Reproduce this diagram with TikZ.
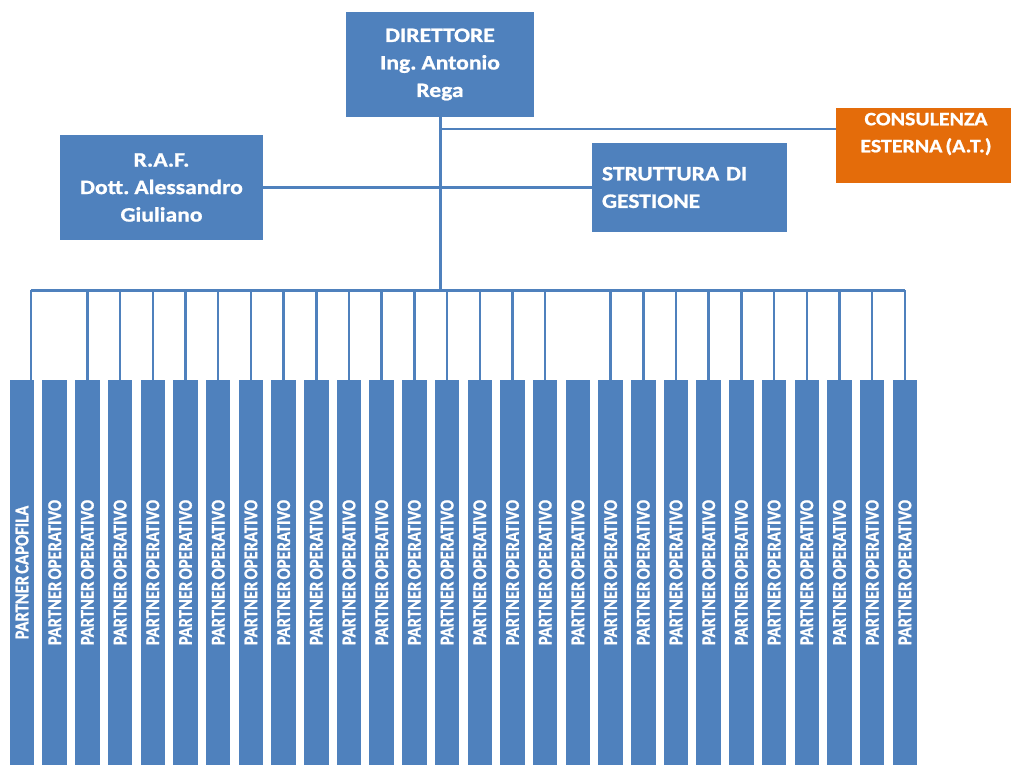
\documentclass[tikz,border=0pt]{standalone}
\usepackage{fontspec}
\setmainfont{Carlito}
\newfontfamily\boxfont{Carlito}[FakeStretch=1.15, WordSpace=0.6,
  BoldFeatures={FakeBold=1}]
\newfontfamily\colfont{Carlito}[FakeStretch=0.85, WordSpace=0.6,
  BoldFeatures={FakeBold=1}]
\usepackage{xcolor}
\usetikzlibrary{calc}
\definecolor{orgblue}{RGB}{79,129,189}
\definecolor{orgorange}{RGB}{228,108,10}

\begin{document}
\begin{tikzpicture}[
    x=1pt, y=-1pt,
    unit/.style={fill=orgblue, text=white, inner sep=0pt, align=center,
      font=\boxfont\bfseries\fontsize{20.5}{27.5}\selectfont},
    partner/.style={fill=orgblue, text=white, inner sep=0pt,
      minimum width=24.5pt, minimum height=385pt,
      font=\colfont\bfseries\fontsize{19.5}{20}\selectfont},
    wire/.style={draw=orgblue, line width=3pt},
    drop/.style={draw=orgblue, line width=2.5pt}
  ]
  \useasboundingbox (0,0) rectangle (1011,765);

  \node[unit, minimum width=188pt, minimum height=105pt] (dir) at (440,64.5)
    {DIRETTORE\\Ing. Antonio\\Rega};
  \node[unit, minimum width=203pt, minimum height=105pt] (raf) at (161.5,187.5)
    {R.A.F.\\Dott. Alessandro\\Giuliano};
  \node[unit, align=left, text width=175pt, minimum width=195pt,
    minimum height=89pt] (strutt) at (689.5,187.5) {STRUTTURA DI\\GESTIONE};
  \node[unit, fill=orgorange, minimum width=180pt, minimum height=75pt]
    (cons) at (926,145.5) {};
  \node[unit, fill=none, font=\boxfont\bfseries\fontsize{19}{27}\selectfont]
    (constxt) at (926,134) {CONSULENZA\\ESTERNA (A.T.)};

  \node[partner] (c1) at (22,572.5) {\rotatebox{90}{PARTNER CAPOFILA}};
  \foreach \i in {2,...,28}
    \node[partner] (c\i) at ({22+(\i-1)*32.7},572.5)
      {\rotatebox{90}{PARTNER OPERATIVO}};

  \coordinate (bus) at (0,290);
  \coordinate (tap) at ($(dir.south)+(0,12)$);
  \coordinate (d1) at ($(c1.north east)+(-3.5,0)$);

  \draw[wire] (dir.south) -- (dir.south |- bus);
  \draw[drop] (tap) -- (tap -| cons.west);
  \draw[wire] (raf.east) -- (strutt.west);
  \draw[wire] (d1 |- bus) -- (c28.north |- bus);
  \draw[drop] (d1 |- bus) -- (d1);
  \foreach \i in {3,...,17,19,20,...,28}
    \draw[drop] (c\i.north |- bus) -- (c\i.north);
\end{tikzpicture}
\end{document}
